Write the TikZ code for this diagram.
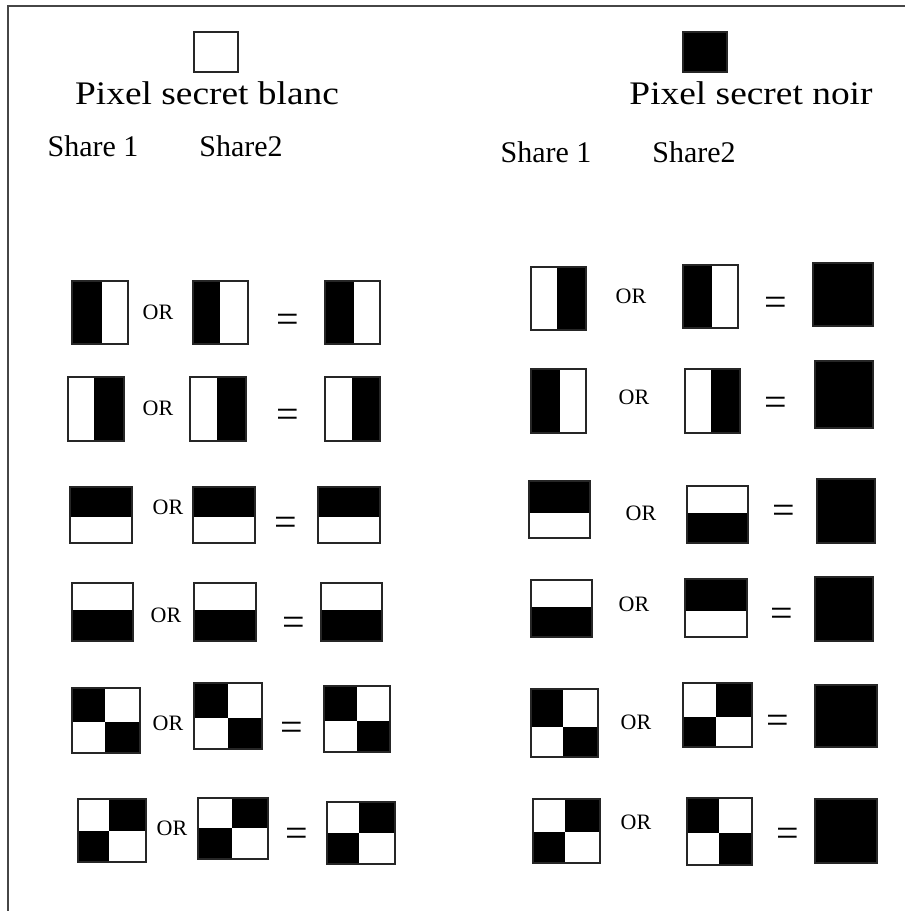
\documentclass[tikz,border=0pt]{standalone}
\usepackage{fontspec}
\usepackage{graphicx}
\setmainfont{Liberation Serif}
\usepackage{tikz}
\usetikzlibrary{positioning}
\definecolor{framegray}{RGB}{70,70,70}

% share patterns: top-left corner, bottom-right corner, split, black part
\newcommand{\vshare}[6]{%
  \ifx l#6 \fill (#1,#2) rectangle (#5,#4); \else \fill (#5,#2) rectangle (#3,#4); \fi
  \draw[pixframe] (#1,#2) rectangle (#3,#4);}
\newcommand{\hshare}[6]{%
  \ifx t#6 \fill (#1,#2) rectangle (#3,#5); \else \fill (#1,#5) rectangle (#3,#4); \fi
  \draw[pixframe] (#1,#2) rectangle (#3,#4);}
\newcommand{\qshare}[7]{%
  \ifx a#7 \fill (#1,#2) rectangle (#5,#6); \fill (#5,#6) rectangle (#3,#4);
  \else \fill (#5,#2) rectangle (#3,#6); \fill (#1,#6) rectangle (#5,#4); \fi
  \draw[pixframe] (#1,#2) rectangle (#3,#4);}
\newcommand{\fshare}[4]{\filldraw[pixframe, fill=black] (#1,#2) rectangle (#3,#4);}

\begin{document}
\begin{tikzpicture}[
  x=1pt, y=-1pt,
  pixframe/.style = {draw=black!85, line width=1.6pt},
  edge/.style = {draw=framegray, line width=2pt},
  titletext/.style = {anchor=base, inner sep=0pt, font=\fontsize{37.4}{40}\selectfont},
  sharetext/.style = {anchor=base, inner sep=0pt, font=\fontsize{30}{32}\selectfont},
  optext/.style = {anchor=center, inner sep=0pt, font=\fontsize{22}{24}\selectfont},
  eqtext/.style = {anchor=base, inner sep=0pt, font=\fontsize{40}{42}\selectfont}
]
  \useasboundingbox (0,0) rectangle (905,911);
  \draw[edge] (905,6) -- (8,6) -- (8,911);

  % headers
  \draw[pixframe] (194,32) rectangle (238,72);
  \fshare{683}{32}{727}{72}
  \node[titletext] (titleW) at (207,104) {\scalebox{1}[0.88]{Pixel secret blanc}};
  \node[titletext] (titleB) at (751,104) {\scalebox{1}[0.88]{Pixel secret noir}};
  \node[sharetext] (s1W) at (93,156)  {Share 1};
  \node[sharetext] (s2W) at (241,156) {Share2};
  \node[sharetext] (s1B) at (546,162) {Share 1};
  \node[sharetext] (s2B) at (694,162) {Share2};

  % white secret pixel
  \vshare{72}{281}{128}{344}{102}{l}  \vshare{193}{281}{248}{344}{220}{l}  \vshare{325}{281}{380}{344}{354}{l}
  \vshare{68}{377}{124}{441}{94}{r}   \vshare{190}{377}{246}{441}{217}{r}  \vshare{325}{377}{380}{441}{352}{r}
  \hshare{70}{487}{132}{543}{517}{t}  \hshare{193}{487}{255}{543}{517}{t}  \hshare{318}{487}{380}{543}{517}{t}
  \hshare{72}{583}{133}{641}{610}{b}  \hshare{194}{583}{256}{641}{610}{b}  \hshare{321}{583}{382}{641}{610}{b}
  \qshare{72}{688}{140}{753}{105}{722}{a}  \qshare{194}{683}{262}{749}{228}{718}{a}  \qshare{324}{686}{390}{752}{357}{721}{a}
  \qshare{78}{799}{146}{862}{109}{831}{b}  \qshare{198}{798}{268}{859}{232}{828}{b}  \qshare{327}{802}{395}{864}{359}{833}{b}

  \node[optext] (orW1) at (158,312) {OR};  \node[eqtext] (eqW1) at (288,332) {=};
  \node[optext] (orW2) at (158,408) {OR};  \node[eqtext] (eqW2) at (288,427) {=};
  \node[optext] (orW3) at (168,507) {OR};  \node[eqtext] (eqW3) at (286,535) {=};
  \node[optext] (orW4) at (166,615) {OR};  \node[eqtext] (eqW4) at (294,635) {=};
  \node[optext] (orW5) at (168,723) {OR};  \node[eqtext] (eqW5) at (292,740) {=};
  \node[optext] (orW6) at (172,828) {OR};  \node[eqtext] (eqW6) at (297,846) {=};

  % black secret pixel
  \vshare{531}{267}{586}{330}{557}{r}  \vshare{683}{265}{738}{328}{712}{l}  \fshare{813}{263}{873}{326}
  \vshare{531}{369}{586}{433}{560}{l}  \vshare{685}{369}{740}{433}{711}{r}  \fshare{815}{361}{873}{428}
  \hshare{529}{481}{590}{538}{513}{t}  \hshare{687}{486}{748}{543}{513}{b}  \fshare{817}{479}{875}{543}
  \hshare{531}{580}{592}{637}{607}{b}  \hshare{685}{579}{747}{637}{611}{t}  \fshare{815}{577}{873}{641}
  \qshare{531}{689}{598}{757}{563}{727}{a}  \qshare{683}{683}{752}{747}{716}{717}{b}  \fshare{815}{685}{877}{747}
  \qshare{533}{799}{600}{863}{565}{832}{b}  \qshare{687}{798}{752}{865}{719}{833}{a}  \fshare{815}{799}{877}{863}

  \node[optext] (orB1) at (631,296) {OR};  \node[eqtext] (eqB1) at (776,315) {=};
  \node[optext] (orB2) at (634,397) {OR};  \node[eqtext] (eqB2) at (776,415) {=};
  \node[optext] (orB3) at (641,513) {OR};  \node[eqtext] (eqB3) at (784,523) {=};
  \node[optext] (orB4) at (634,604) {OR};  \node[eqtext] (eqB4) at (782,626) {=};
  \node[optext] (orB5) at (636,722) {OR};  \node[eqtext] (eqB5) at (778,733) {=};
  \node[optext] (orB6) at (636,822) {OR};  \node[eqtext] (eqB6) at (788,846) {=};
\end{tikzpicture}
\end{document}
